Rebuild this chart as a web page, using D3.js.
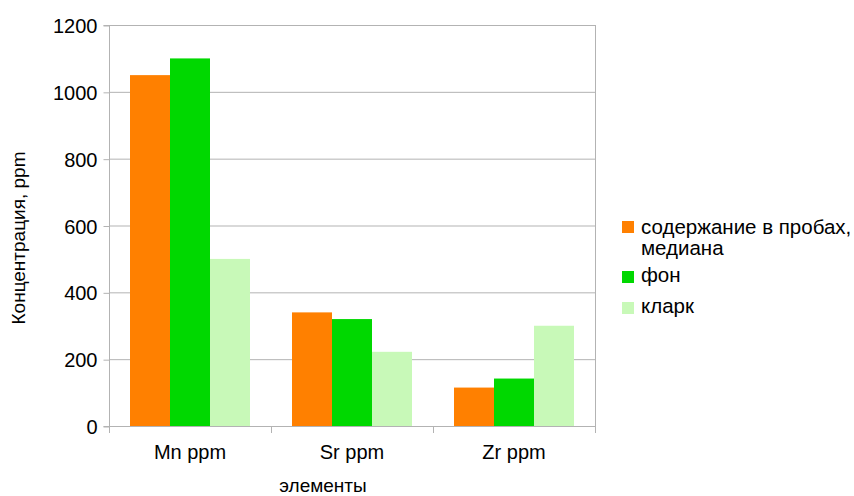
<!DOCTYPE html>
<html><head><meta charset="utf-8">
<script src="https://cdn.jsdelivr.net/npm/d3@7"></script>
<style>body{margin:0;background:#fff}text{font-family:"Liberation Sans",Arial,sans-serif;fill:#000}</style>
</head><body><svg id="c" width="854" height="496"></svg>
<script>
const categories = ["Mn ppm", "Sr ppm", "Zr ppm"];
const seriesNames = ["содержание в пробах, медиана", "фон", "кларк"];
const median = [1050, 340, 115];
const background = [1100, 320, 142];
const clarke = [500, 222, 300];
const yTicks = [0, 200, 400, 600, 800, 1000, 1200];
const colors = ["#ff8000", "#00d800", "#c8f9b8"];
const series = [median, background, clarke];

const svg = d3.select("#c");
const L = 109, R = 595, T = 25, B = 426;
const x = d3.scaleBand().domain(categories).range([L, R]).paddingInner(0).paddingOuter(0);
const y = d3.scaleLinear().domain([0, 1200]).range([B, T]);
const barW = 40;

// gridlines
svg.append("g").selectAll("line").data(yTicks).join("line")
  .attr("x1", L).attr("x2", R).attr("y1", d => y(d)+0.5).attr("y2", d => y(d)+0.5)
  .attr("stroke", "#b3b3b3").attr("stroke-width", 1);
svg.append("line").attr("x1", R+0.5).attr("x2", R+0.5).attr("y1", T).attr("y2", B).attr("stroke", "#b3b3b3");

// bars
series.forEach((s, i) => {
  svg.append("g").selectAll("rect").data(categories).join("rect")
    .attr("x", d => x(d) + x.bandwidth()/2 - 1.5*barW + i*barW)
    .attr("width", barW)
    .attr("y", (d, j) => y(s[j]))
    .attr("height", (d, j) => B - y(s[j]))
    .attr("fill", colors[i]);
});

// y axis
const ya = d3.axisLeft(y).tickValues(yTicks).tickFormat(d3.format("d")).tickSize(6).tickPadding(6);
const gy = svg.append("g").attr("transform", `translate(${L+0.5},0.5)`).call(ya);
gy.selectAll("path,line").attr("stroke", "#b3b3b3");
gy.select(".domain").attr("d", `M-6,${T}H0V${B}H-6`);
gy.selectAll("text").attr("font-size", 20).attr("fill", "#000").attr("dy", "0.35em")
  .style("font-family", "Liberation Sans, Arial, sans-serif");

// x axis
svg.append("line").attr("x1", L).attr("x2", R+1).attr("y1", B+0.5).attr("y2", B+0.5).attr("stroke", "#b3b3b3");
const bounds = [L, ...categories.map(c => x(c) + x.bandwidth())];
svg.append("g").selectAll("line").data(bounds).join("line")
  .attr("x1", d => Math.round(d)+0.5).attr("x2", d => Math.round(d)+0.5).attr("y1", B).attr("y2", B+7).attr("stroke", "#b3b3b3");
svg.append("g").selectAll("text").data(categories).join("text")
  .attr("x", d => x(d) + x.bandwidth()/2).attr("y", 459).attr("text-anchor", "middle")
  .attr("font-size", 20).text(d => d);

// axis titles
svg.append("text").attr("x", 323).attr("y", 492).attr("text-anchor", "middle").attr("font-size", 19).text("элементы");
svg.append("text").attr("transform", "translate(25,238) rotate(-90)").attr("text-anchor", "middle").attr("font-size", 19).text("Концентрация, ppm");

// legend
const leg = [
  {lines: ["содержание в пробах,", "медиана"], y: 234, sq: 221},
  {lines: ["фон"], y: 282, sq: 271},
  {lines: ["кларк"], y: 313, sq: 302}
];
leg.forEach((l, i) => {
  svg.append("rect").attr("x", 622).attr("y", l.sq).attr("width", 12).attr("height", 12).attr("fill", colors[i]);
  const t = svg.append("text").attr("x", 641).attr("y", l.y).attr("font-size", 20.5);
  l.lines.forEach((ln, k) => t.append("tspan").attr("x", 641).attr("dy", k ? 21 : 0).text(ln));
});
</script></body></html>
